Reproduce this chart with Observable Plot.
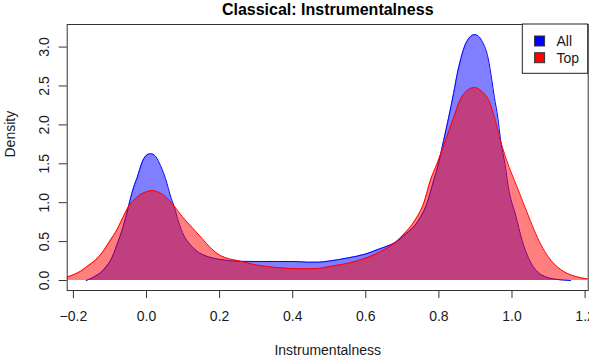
<!DOCTYPE html>
<html>
<head>
<meta charset="utf-8">
<script src="https://cdn.jsdelivr.net/npm/d3@7"></script>
<script src="https://cdn.jsdelivr.net/npm/@observablehq/plot@0.6"></script>
<style>
  html, body { margin: 0; padding: 0; background: #fff; }
  #chart { width: 589px; height: 360px; }
</style>
</head>
<body>
<div id="chart"></div>
<script>
// Kernel density estimates of instrumentalness for classical tracks
const chartTitle = "Classical: Instrumentalness";
const xLabel = "Instrumentalness";
const yLabel = "Density";

const allX = [-0.165, -0.15, -0.135, -0.121, -0.11, -0.098, -0.08, -0.066, -0.053, -0.044, -0.035, -0.025, -0.012, -0.002, 0.011, 0.024, 0.034, 0.052, 0.068, 0.075, 0.088, 0.102, 0.12, 0.14, 0.16, 0.18, 0.21, 0.25, 0.3, 0.35, 0.4, 0.44, 0.47, 0.5, 0.55, 0.595, 0.64, 0.681, 0.71, 0.741, 0.768, 0.786, 0.795, 0.813, 0.827, 0.84, 0.85, 0.86, 0.875, 0.898, 0.92, 0.935, 0.944, 0.952, 0.961, 0.969, 0.982, 0.99, 1.01, 1.028, 1.046, 1.07, 1.09, 1.12, 1.16];
const allY = [0, 0.03, 0.07, 0.12, 0.18, 0.26, 0.47, 0.66, 0.88, 1.05, 1.2, 1.33, 1.52, 1.6, 1.63, 1.6, 1.52, 1.31, 1.05, 0.96, 0.75, 0.58, 0.46, 0.37, 0.32, 0.29, 0.265, 0.247, 0.244, 0.244, 0.244, 0.236, 0.236, 0.25, 0.29, 0.334, 0.41, 0.49, 0.6, 0.75, 1.0, 1.29, 1.43, 1.8, 2.1, 2.4, 2.65, 2.85, 3.06, 3.16, 3.06, 2.85, 2.6, 2.35, 2.1, 1.8, 1.46, 1.2, 0.84, 0.51, 0.28, 0.11, 0.05, 0.015, 0];

const topX = [-0.217, -0.2, -0.18, -0.16, -0.14, -0.121, -0.1, -0.08, -0.062, -0.048, -0.035, -0.021, 0, 0.0155, 0.035, 0.052, 0.075, 0.098, 0.125, 0.152, 0.175, 0.2025, 0.225, 0.248, 0.3, 0.348, 0.394, 0.43, 0.47, 0.512, 0.55, 0.595, 0.64, 0.681, 0.705, 0.731, 0.759, 0.777, 0.795, 0.818, 0.841, 0.857, 0.875, 0.897, 0.92, 0.937, 0.952, 0.967, 0.985, 1.014, 1.045, 1.065, 1.085, 1.11, 1.14, 1.175, 1.208];
const topY = [0.045, 0.075, 0.12, 0.19, 0.26, 0.36, 0.51, 0.66, 0.835, 0.96, 1.03, 1.09, 1.14, 1.157, 1.13, 1.08, 0.96, 0.82, 0.68, 0.54, 0.42, 0.32, 0.28, 0.257, 0.2, 0.17, 0.155, 0.15, 0.155, 0.19, 0.22, 0.28, 0.37, 0.49, 0.6, 0.75, 1.0, 1.29, 1.5, 1.8, 2.1, 2.31, 2.43, 2.48, 2.42, 2.31, 2.1, 1.82, 1.55, 1.2, 0.83, 0.6, 0.41, 0.24, 0.12, 0.05, 0.02];

const xTicks = [-0.2, 0, 0.2, 0.4, 0.6, 0.8, 1.0, 1.2];
const yTicks = [0, 0.5, 1.0, 1.5, 2.0, 2.5, 3.0];

const seriesNames = ["All", "Top"];
const seriesColors = ["#0000ff", "#ff0000"];

const allData = allX.map((x, i) => ({x, y: allY[i]}));
const topData = topX.map((x, i) => ({x, y: topY[i]}));

const W = 589, H = 360;
const mL = 66.7, mR = 1.3, mT = 24, mB = 70;
const font = "'Liberation Sans', Arial, Helvetica, sans-serif";
const fmt = d3.format(".1f");

const plot = Plot.plot({
  width: W,
  height: H,
  marginLeft: mL,
  marginRight: mR,
  marginTop: mT,
  marginBottom: mB,
  style: {fontFamily: font, fontSize: "14px", color: "#1a1a1a", background: "#fff"},
  x: {domain: [-0.217, 1.2085]},
  y: {domain: [-0.1285, 3.29]},
  marks: [
    // "All" density, filled then outlined
    Plot.areaY(allData, {x: "x", y: "y", fill: seriesColors[0], fillOpacity: 0.5, curve: "monotone-x", clip: true}),
    Plot.lineY(allData, {x: "x", y: "y", stroke: seriesColors[0], strokeWidth: 1, curve: "monotone-x", clip: true}),
    // "Top" density drawn over it
    Plot.areaY(topData, {x: "x", y: "y", fill: seriesColors[1], fillOpacity: 0.5, curve: "monotone-x", clip: true}),
    Plot.lineY(topData, {x: "x", y: "y", stroke: seriesColors[1], strokeWidth: 1, curve: "monotone-x", clip: true}),
    Plot.frame({stroke: "#333", strokeWidth: 1}),
    // x axis
    Plot.axisX({ticks: xTicks, tickSize: 8, tickPadding: 13, tickFormat: fmt, label: null, fontSize: 14, stroke: "#333"}),
    // y axis: tick marks plus rotated labels
    Plot.axisY({ticks: yTicks, tickSize: 8, tickFormat: () => "", label: null, stroke: "#333"}),
    Plot.text(yTicks, {y: (d) => d, frameAnchor: "left", dx: -18.4, rotate: -90, text: (d) => fmt(d), textAnchor: "middle", lineAnchor: "bottom", fontSize: 14}),
    // titles
    Plot.text([chartTitle], {frameAnchor: "top", dy: -10, lineAnchor: "bottom", fontWeight: "bold", fontSize: 16, fill: "#000"}),
    Plot.text([xLabel], {frameAnchor: "bottom", dy: 64, lineAnchor: "bottom", fontSize: 14}),
    Plot.text([yLabel], {frameAnchor: "left", dx: -52, rotate: -90, lineAnchor: "bottom", fontSize: 14})
  ]
});

// Legend box in the top-right corner of the plotting frame
const svg = d3.select(plot);
const lgW = 65.4, lgH = 49.3;
const lgX = W - mR - lgW, lgY = mT;
const lg = svg.append("g").attr("font-family", font).attr("font-size", 14).attr("text-anchor", "start");
lg.append("rect").attr("x", lgX).attr("y", lgY).attr("width", lgW).attr("height", lgH)
  .attr("fill", "#fff").attr("stroke", "#222").attr("stroke-width", 1);
seriesNames.forEach((name, i) => {
  const cy = lgY + 17 + i * 16.7;
  lg.append("rect").attr("x", lgX + 12.3).attr("y", cy - 5).attr("width", 10).attr("height", 10)
    .attr("fill", seriesColors[i]).attr("stroke", "#333").attr("stroke-width", 1);
  lg.append("text").attr("x", lgX + 34.2).attr("y", cy).attr("dy", "0.35em")
    .attr("text-anchor", "start").attr("fill", "#1a1a1a").text(name);
});

document.getElementById("chart").appendChild(plot);
</script>
</body>
</html>
